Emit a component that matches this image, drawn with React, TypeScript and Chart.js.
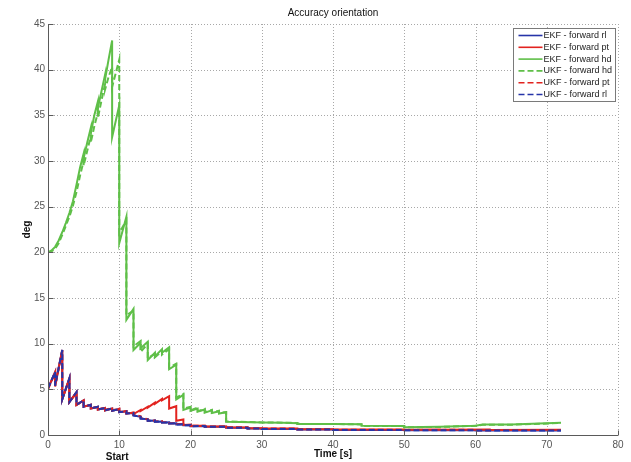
import { useEffect, useRef } from "react";
import { Chart, registerables } from "chart.js";

Chart.register(...registerables);

const FONT = "'Liberation Sans', Arial, Helvetica, sans-serif";

const TITLE = "Accuracy orientation";
const X_LABEL = "Time [s]";
const Y_LABEL = "deg";
const START_LABEL = "Start";
const START_TIME = 9.7;

const xTicks = [0, 10, 20, 30, 40, 50, 60, 70, 80];
const yTicks = [0, 5, 10, 15, 20, 25, 30, 35, 40, 45];

const seriesLabels = [
  "EKF - forward rl",
  "EKF - forward pt",
  "EKF - forward hd",
  "UKF - forward hd",
  "UKF - forward pt",
  "UKF - forward rl",
];

// [time s, deg]
const ekfRl: [number, number][] = [
  [0, 5.1], [1, 6.9], [1, 5.4], [2, 9.3], [2, 3.9], [3, 6.2], [3, 3.6], [4, 4.7], [4, 3.3],
  [5, 3.8], [5, 3.1], [6, 3.3], [6, 2.9], [7, 3.1], [7, 2.8], [8, 2.95], [8, 2.7], [9, 2.9],
  [9, 2.65], [10, 2.85], [10, 2.5], [11, 2.6], [11, 2.35], [12, 2.4], [12, 2.15], [13, 2.0],
  [13, 1.8], [14, 1.72], [14, 1.55], [15, 1.58], [15, 1.45], [16, 1.48], [16, 1.36], [17, 1.38],
  [17, 1.26], [18, 1.28], [18, 1.16], [19, 1.18], [19, 1.06], [20, 1.08], [20, 0.97], [22, 0.98],
  [22, 0.9], [25, 0.9], [25, 0.8], [28, 0.8], [28, 0.72], [30, 0.72], [30, 0.66], [35, 0.66],
  [35, 0.6], [40, 0.6], [40, 0.55], [50, 0.55], [50, 0.52], [60, 0.53], [60, 0.5], [72, 0.5],
];

const ekfPt: [number, number][] = [
  [0, 5.1], [1, 6.9], [1, 5.4], [2, 9.3], [2, 3.9], [3, 6.2], [3, 3.6], [4, 4.7], [4, 3.3],
  [5, 3.8], [5, 3.1], [6, 3.3], [6, 2.9], [7, 3.1], [7, 2.8], [8, 2.95], [8, 2.7], [9, 2.9],
  [9, 2.65], [10, 2.85], [10, 2.5], [11, 2.6], [11, 2.35], [12, 2.45], [12, 2.3], [13, 2.75],
  [13, 2.62], [14, 3.1], [14, 3.0], [15, 3.55], [15, 3.42], [16, 3.95], [16, 3.8], [17, 4.25],
  [17, 2.9], [18, 3.15], [18, 1.55], [19, 1.7], [19, 1.1], [20, 1.15], [20, 1.0], [22, 1.02],
  [22, 0.92], [25, 0.93], [25, 0.82], [28, 0.82], [28, 0.74], [30, 0.75], [30, 0.7], [35, 0.7],
  [35, 0.64], [40, 0.64], [40, 0.6], [50, 0.6], [50, 0.57], [55, 0.6], [55, 0.57], [62, 0.6],
  [62, 0.56], [72, 0.58],
];

const ekfHd: [number, number][] = [
  [0, 20.0], [0.5, 20.2], [1, 20.6], [1.5, 21.3], [2, 22.2], [2.5, 23.2], [3, 24.3], [3.5, 25.6],
  [4, 27.4], [4.5, 29.3], [5, 30.8], [5, 30.3], [5.5, 32.0], [6, 33.6], [6, 33.0], [6.5, 35.0],
  [7, 36.5], [7, 35.8], [7.5, 37.6], [8, 39.4], [8, 38.9], [8.5, 41.1], [9, 43.2], [9, 32.6],
  [10, 36.1], [10, 21.0], [11, 23.9], [11, 12.6], [12, 13.8], [12, 9.3], [13, 10.1], [13, 9.5],
  [14, 10.2], [14, 8.2], [15, 9.0], [15, 8.6], [16, 9.4], [16, 9.0], [17, 9.6], [17, 7.2],
  [18, 7.7], [18, 3.9], [19, 4.4], [19, 2.75], [20, 3.0], [20, 2.65], [21, 2.9], [21, 2.55],
  [22, 2.8], [22, 2.45], [23, 2.7], [23, 2.4], [24, 2.6], [24, 2.35], [25, 2.5], [25, 1.45],
  [27, 1.42], [30, 1.36], [33, 1.34], [35, 1.3], [35, 1.2], [40, 1.2], [44, 1.18], [44, 1.0],
  [50, 0.98], [50, 0.85], [55, 0.9], [60, 1.02], [61, 1.14], [65, 1.14], [68, 1.22], [72, 1.35],
];

const ukfHd: [number, number][] = [
  [0, 20.0], [0.5, 20.1], [1, 20.4], [1.5, 21.0], [2, 21.9], [2.5, 22.9], [3, 23.9], [3.5, 25.1],
  [4, 26.6], [4.5, 28.4], [5, 30.0], [5, 29.5], [5.5, 31.1], [6, 32.7], [6, 32.0], [6.5, 33.8],
  [7, 35.3], [7, 34.7], [7.5, 36.6], [8, 38.4], [8, 37.8], [8.5, 39.2], [9, 40.3], [9, 38.1],
  [10, 41.1], [10, 22.1], [11, 23.5], [11, 13.1], [12, 13.6], [12, 9.7], [13, 10.3], [13, 9.1],
  [14, 10.0], [14, 8.4], [15, 8.9], [15, 8.5], [16, 9.2], [16, 8.8], [17, 9.4], [17, 7.4],
  [18, 7.8], [18, 4.1], [19, 4.5], [19, 2.9], [20, 3.1], [20, 2.7], [21, 3.0], [21, 2.6],
  [22, 2.85], [22, 2.5], [23, 2.75], [23, 2.45], [24, 2.65], [24, 2.4], [25, 2.5], [25, 1.5],
  [30, 1.38], [35, 1.32], [35, 1.22], [40, 1.2], [44, 1.16], [44, 1.0], [50, 0.97], [50, 0.84],
  [55, 0.88], [60, 1.0], [61, 1.12], [65, 1.13], [68, 1.2], [72, 1.32],
];

const ukfPt: [number, number][] = [
  [0, 5.0], [1, 6.8], [1, 5.3], [2, 9.2], [2, 4.0], [3, 6.1], [3, 3.6], [4, 4.6], [4, 3.3],
  [5, 3.7], [5, 3.1], [6, 3.3], [6, 2.9], [7, 3.1], [7, 2.8], [8, 3.0], [8, 2.75], [9, 2.95],
  [9, 2.7], [10, 2.9], [10, 2.55], [11, 2.6], [11, 2.4], [12, 2.45], [12, 2.2], [13, 2.05],
  [13, 1.85], [14, 1.75], [14, 1.6], [15, 1.6], [15, 1.5], [16, 1.5], [16, 1.4], [17, 1.4],
  [17, 1.3], [18, 1.3], [18, 1.2], [19, 1.2], [19, 1.1], [20, 1.1], [20, 1.0], [22, 1.0],
  [22, 0.92], [25, 0.95], [25, 0.85], [28, 0.85], [28, 0.75], [30, 0.75], [30, 0.7], [35, 0.7],
  [35, 0.63], [40, 0.62], [40, 0.58], [50, 0.58], [50, 0.55], [60, 0.57], [60, 0.53], [72, 0.55],
];

const ukfRl: [number, number][] = [
  [0, 5.1], [1, 6.9], [1, 5.4], [2, 9.3], [2, 3.9], [3, 6.2], [3, 3.6], [4, 4.7], [4, 3.3],
  [5, 3.8], [5, 3.1], [6, 3.3], [6, 2.9], [7, 3.1], [7, 2.8], [8, 2.95], [8, 2.7], [9, 2.9],
  [9, 2.65], [10, 2.85], [10, 2.5], [11, 2.6], [11, 2.35], [12, 2.4], [12, 2.15], [13, 2.0],
  [13, 1.8], [14, 1.72], [14, 1.56], [15, 1.58], [15, 1.46], [16, 1.48], [16, 1.36], [17, 1.38],
  [17, 1.26], [18, 1.28], [18, 1.16], [19, 1.18], [19, 1.06], [20, 1.08], [20, 0.97], [22, 0.98],
  [22, 0.9], [25, 0.9], [25, 0.8], [28, 0.8], [28, 0.72], [30, 0.72], [30, 0.66], [35, 0.66],
  [35, 0.6], [40, 0.6], [40, 0.55], [50, 0.55], [50, 0.52], [60, 0.53], [60, 0.5], [72, 0.5],
];

const seriesData = [ekfRl, ekfPt, ekfHd, ukfHd, ukfPt, ukfRl];

const BLUE = "#2634a8";
const RED = "#e2231f";
const GREEN = "#5fbf48";
const seriesColors = [BLUE, RED, GREEN, GREEN, RED, BLUE];
const seriesDashed = [false, false, false, true, true, true];

const decorations = {
  id: "decorations",
  beforeDatasetsDraw(chart: any) {
    const { ctx, chartArea: a, scales } = chart;
    const x = scales.x;
    const y = scales.y;
    ctx.save();
    ctx.strokeStyle = "#a8a8a8";
    ctx.lineWidth = 1;
    ctx.setLineDash([1, 2]);
    ctx.beginPath();
    for (const t of xTicks) {
      if (t === xTicks[0]) continue;
      const px = Math.round(x.getPixelForValue(t)) + 0.5;
      ctx.moveTo(px, a.top);
      ctx.lineTo(px, a.bottom);
    }
    for (const t of yTicks) {
      if (t === yTicks[0]) continue;
      const py = Math.round(y.getPixelForValue(t)) + 0.5;
      ctx.moveTo(a.left, py);
      ctx.lineTo(a.right, py);
    }
    ctx.stroke();
    ctx.restore();
  },
  afterDatasetsDraw(chart: any) {
    const { ctx, chartArea: a, scales, data } = chart;
    const x = scales.x;
    const y = scales.y;
    ctx.save();
    // axes with inward ticks
    ctx.strokeStyle = "#5a5a5a";
    ctx.lineWidth = 1;
    ctx.setLineDash([]);
    const left = Math.round(a.left) + 0.5;
    const bottom = Math.round(a.bottom) + 0.5;
    ctx.beginPath();
    ctx.moveTo(left, a.top);
    ctx.lineTo(left, bottom);
    ctx.lineTo(a.right, bottom);
    for (const t of xTicks) {
      const px = Math.round(x.getPixelForValue(t)) + 0.5;
      ctx.moveTo(px, bottom);
      ctx.lineTo(px, bottom - 5);
    }
    for (const t of yTicks) {
      const py = Math.round(y.getPixelForValue(t)) + 0.5;
      ctx.moveTo(left, py);
      ctx.lineTo(left + 5, py);
    }
    ctx.stroke();

    // legend box
    const bw = 102;
    const bh = 73;
    const bx = Math.round(a.right - bw - 3) + 0.5;
    const by = Math.round(a.top + 4) + 0.5;
    ctx.fillStyle = "#ffffff";
    ctx.fillRect(bx, by, bw, bh);
    ctx.strokeStyle = "#7a7a7a";
    ctx.strokeRect(bx, by, bw, bh);
    ctx.font = `9px ${FONT}`;
    ctx.textBaseline = "middle";
    ctx.textAlign = "left";
    data.datasets.forEach((ds: any, i: number) => {
      const ly = by + 7 + i * 11.8;
      ctx.strokeStyle = ds.borderColor;
      ctx.lineWidth = 1.6;
      ctx.setLineDash(ds.borderDash || []);
      ctx.beginPath();
      ctx.moveTo(bx + 5, ly);
      ctx.lineTo(bx + 29, ly);
      ctx.stroke();
      ctx.fillStyle = "#222222";
      ctx.fillText(ds.label, bx + 30, ly);
    });
    ctx.restore();
  },
  afterDraw(chart: any) {
    const { ctx, chartArea: a, scales } = chart;
    const x = scales.x;
    ctx.save();
    ctx.fillStyle = "#111111";
    ctx.textAlign = "center";
    ctx.textBaseline = "middle";
    const cx = (a.left + a.right) / 2;
    ctx.font = `10px ${FONT}`;
    ctx.fillText(TITLE, cx, 13);
    ctx.font = `bold 10px ${FONT}`;
    ctx.fillText(X_LABEL, cx, a.bottom + 19);
    ctx.fillText(START_LABEL, x.getPixelForValue(START_TIME), a.bottom + 22);
    ctx.translate(27, (a.top + a.bottom) / 2);
    ctx.rotate(-Math.PI / 2);
    ctx.fillText(Y_LABEL, 0, 0);
    ctx.restore();
  },
};

export default function App() {
  const canvasRef = useRef<HTMLCanvasElement | null>(null);

  useEffect(() => {
    document.body.style.margin = "0";
    const canvas = canvasRef.current;
    if (!canvas) return;
    const tickFont = { family: FONT, size: 10 };
    const chart = new Chart(canvas, {
      type: "line",
      data: {
        datasets: seriesData.map((pts, i) => ({
          label: seriesLabels[i],
          data: pts.map(([t, v]) => ({ x: t, y: v })),
          borderColor: seriesColors[i],
          backgroundColor: seriesColors[i],
          borderWidth: 2,
          borderDash: seriesDashed[i] ? [6, 3] : [],
          pointRadius: 0,
          tension: 0,
          fill: false,
          order: seriesData.length - i,
        })),
      },
      options: {
        responsive: false,
        devicePixelRatio: 1,
        animation: false,
        events: [],
        layout: { padding: { left: 0, right: 13, top: 24, bottom: 0 } },
        plugins: {
          legend: { display: false },
          tooltip: { enabled: false },
          title: { display: false },
        },
        scales: {
          x: {
            type: "linear",
            min: xTicks[0],
            max: xTicks[xTicks.length - 1],
            grid: { display: false, drawTicks: false },
            border: { display: false },
            ticks: { stepSize: 10, color: "#555555", font: tickFont, padding: 4, maxRotation: 0 },
            afterFit: (s: any) => {
              s.height = 27;
            },
          },
          y: {
            type: "linear",
            min: yTicks[0],
            max: yTicks[yTicks.length - 1],
            grid: { display: false, drawTicks: false },
            border: { display: false },
            ticks: { stepSize: 5, color: "#555555", font: tickFont, padding: 3 },
            afterFit: (s: any) => {
              s.width = 48;
            },
          },
        },
      },
      plugins: [decorations],
    });
    return () => chart.destroy();
  }, []);

  return (
    <div style={{ position: "fixed", left: 0, top: 0, width: 631, height: 462, background: "#fff" }}>
      <canvas ref={canvasRef} width={631} height={462} />
    </div>
  );
}
